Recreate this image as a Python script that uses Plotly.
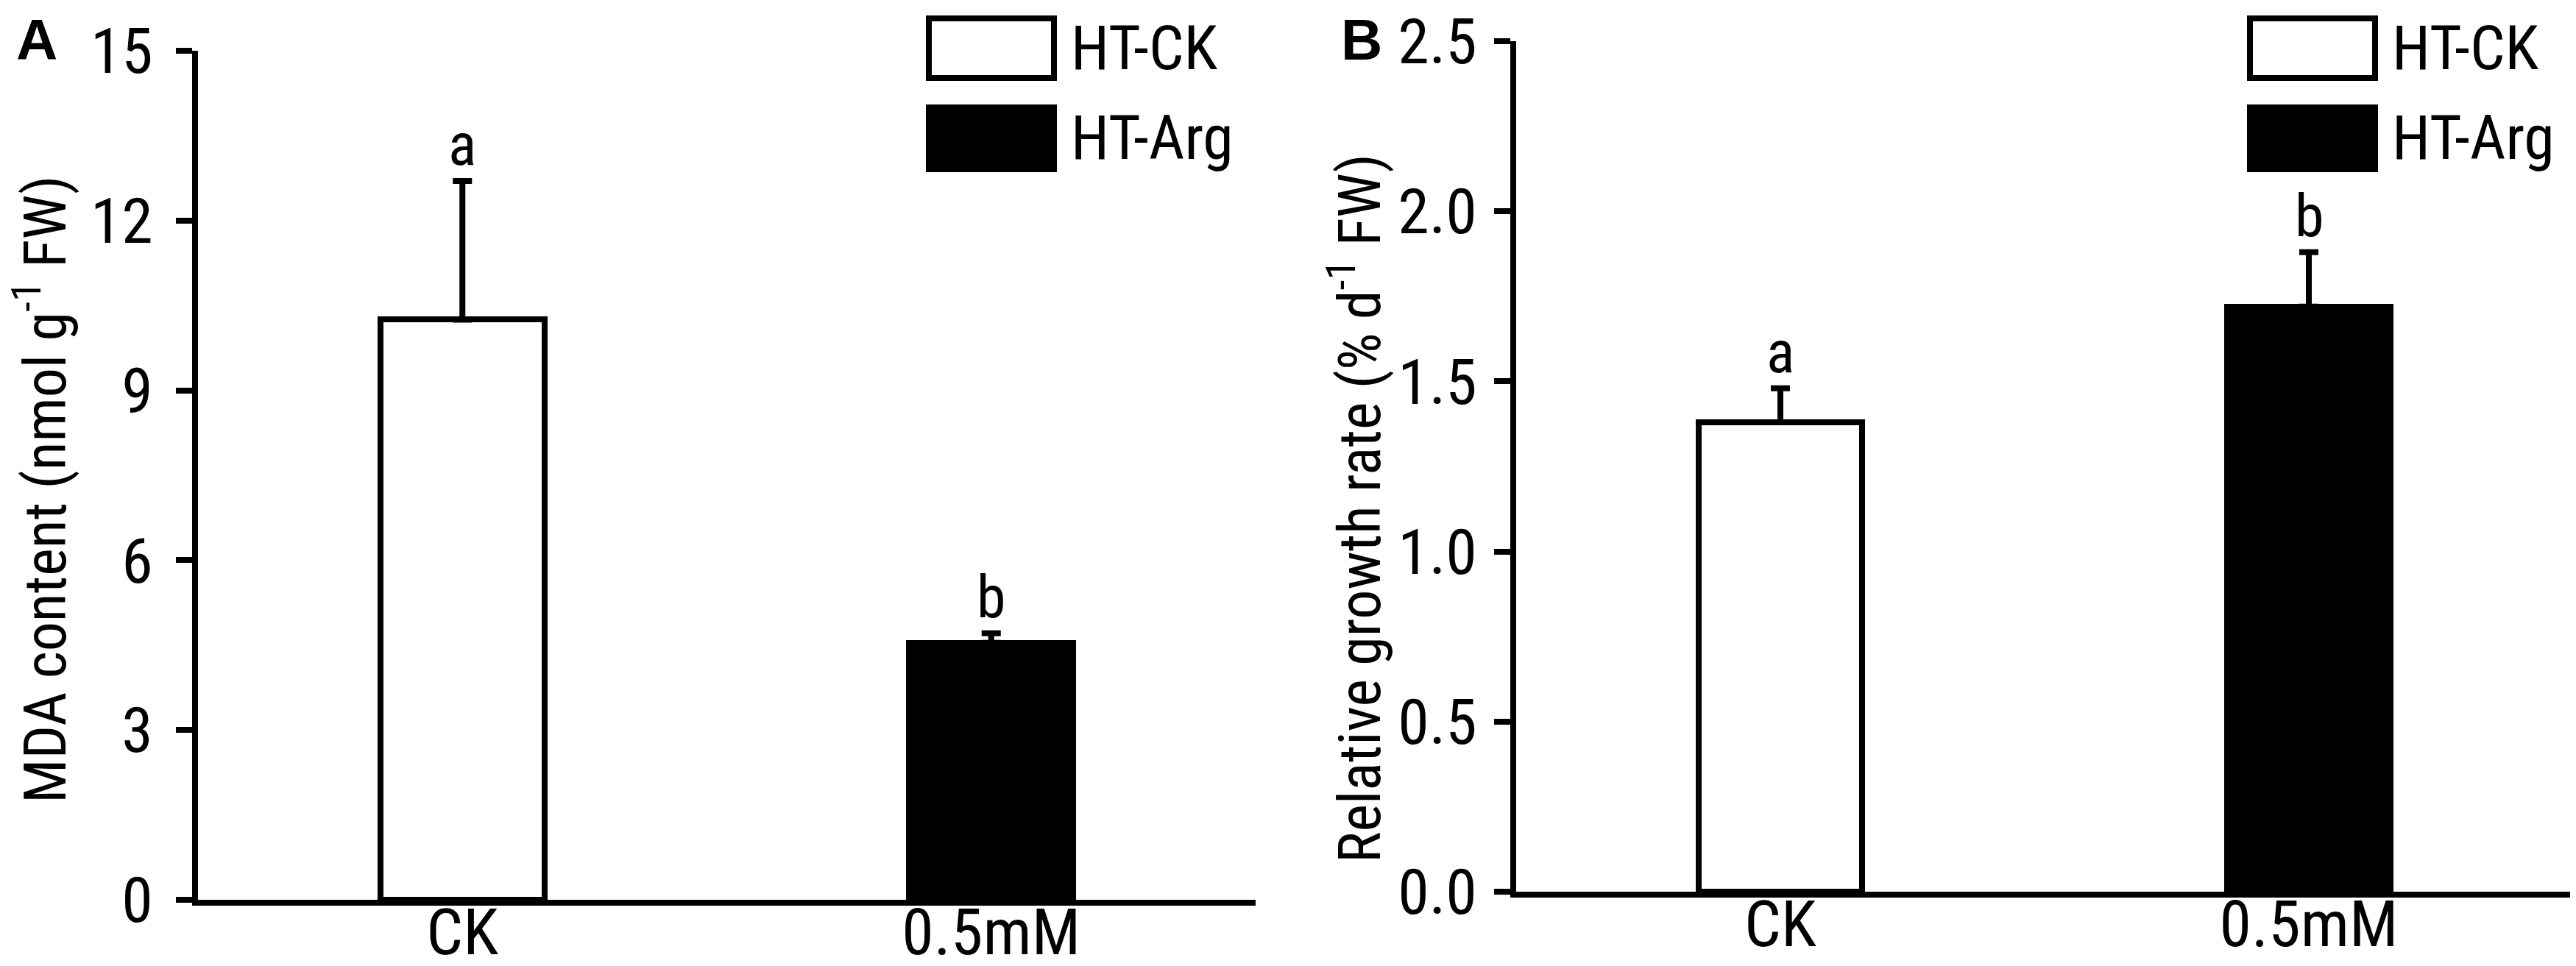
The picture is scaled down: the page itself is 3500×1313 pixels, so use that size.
import plotly.graph_objects as go

# data
groups = ["CK", "0.5mM"]
series_names = ["HT-CK", "HT-Arg"]
bar_colors = ["white", "black"]

mda_mean = [10.25, 4.54]
mda_sd = [2.45, 0.17]
mda_letters = ["a", "b"]

rgr_mean = [1.38, 1.72]
rgr_sd = [0.10, 0.16]
rgr_letters = ["a", "b"]

W, H = 3500, 1313
FONT = "Liberation Sans Narrow, Roboto Condensed, DejaVu Sans Condensed, sans-serif"


def px(x):
    return x / W


def py(y):
    return 1 - y / H


fig = go.Figure()

# %% bars
for mean, sd, xa, ya in [(mda_mean, mda_sd, "x", "y"), (rgr_mean, rgr_sd, "x2", "y2")]:
    fig.add_trace(go.Bar(
        x=groups, y=mean, xaxis=xa, yaxis=ya,
        width=0.31,
        marker=dict(color=bar_colors, line=dict(color="black", width=8)),
        error_y=dict(type="data", array=sd, arrayminus=[0, 0], symmetric=False,
                     color="black", thickness=8, width=13),
        showlegend=False,
    ))

# significance letters
for mean, sd, letters, xa, ya in [(mda_mean, mda_sd, mda_letters, "x", "y"),
                                  (rgr_mean, rgr_sd, rgr_letters, "x2", "y2")]:
    for g, m, s, t in zip(groups, mean, sd, letters):
        fig.add_annotation(x=g, y=m + s, xref=xa, yref=ya, text=t, showarrow=False,
                           yanchor="bottom", yshift=0, font=dict(size=80, family=FONT, color="black"))

axis_common = dict(showline=True, linecolor="black", linewidth=8, showgrid=False, zeroline=False,
                   mirror=False, automargin=False, ticklabeloverflow="allow")

fig.update_layout(
    width=W, height=H,
    margin=dict(l=0, r=0, t=0, b=0, autoexpand=False),
    plot_bgcolor="white", paper_bgcolor="white",
    font=dict(family=FONT, color="black"),
    bargap=0,
    xaxis=dict(domain=[px(261), px(1698)], range=[-0.5, 1.5], ticks="", ticklen=0,
               tickfont=dict(size=88), ticklabelstandoff=-40, **axis_common),
    yaxis=dict(domain=[py(1215), py(61)], range=[0, 15], dtick=3, ticks="outside",
               ticklen=22, tickwidth=8, tickcolor="black", tickfont=dict(size=86),
               ticklabelstandoff=14, **axis_common),
    xaxis2=dict(domain=[px(2052), px(3488)], range=[-0.5, 1.5], ticks="", ticklen=0, anchor="y2",
                tickfont=dict(size=88), ticklabelstandoff=-40, **axis_common),
    yaxis2=dict(domain=[py(1204), py(48)], range=[0, 2.5], dtick=0.5, tickformat=".1f",
                ticks="outside", anchor="x2",
                ticklen=22, tickwidth=8, tickcolor="black", tickfont=dict(size=86),
                ticklabelstandoff=6, **axis_common),
)

# axis titles
fig.add_annotation(x=px(48), y=py(658), xref="paper", yref="paper", showarrow=False,
                   text="MDA content (nmol g<sup>-1</sup> FW)", textangle=-90,
                   xanchor="center", yanchor="middle", font=dict(size=80, family=FONT))
fig.add_annotation(x=px(1834), y=py(683), xref="paper", yref="paper", showarrow=False,
                   text="Relative growth rate (% d<sup>-1</sup> FW)", textangle=-90,
                   xanchor="center", yanchor="middle", font=dict(size=80, family=FONT))

# panel letters
for lab, x0 in [("A", 12), ("B", 1812)]:
    fig.add_annotation(x=px(x0), y=py(0), xref="paper", yref="paper", showarrow=False,
                       text="<b>" + lab + "</b>", xanchor="left", yanchor="top",
                       font=dict(size=78, family="Liberation Sans, Arial, sans-serif"))

# legend boxes drawn per panel
for bx, tx in [(1250, 1445), (3045, 3240)]:
    boxes = [(13, 102), (134, 226)]
    for (y0, y1), name, col in zip(boxes, series_names, bar_colors):
        fig.add_shape(type="rect", xref="paper", yref="paper",
                      x0=px(bx + 4), x1=px(bx + 174), y0=py(y0 + 4), y1=py(y1 - 4),
                      line=dict(color="black", width=8), fillcolor=col)
        fig.add_annotation(x=px(tx), y=py((y0 + y1) / 2), xref="paper", yref="paper",
                           text=name, showarrow=False, xanchor="left", yanchor="middle",
                           font=dict(size=84, family=FONT))

fig.write_html("out.html")
